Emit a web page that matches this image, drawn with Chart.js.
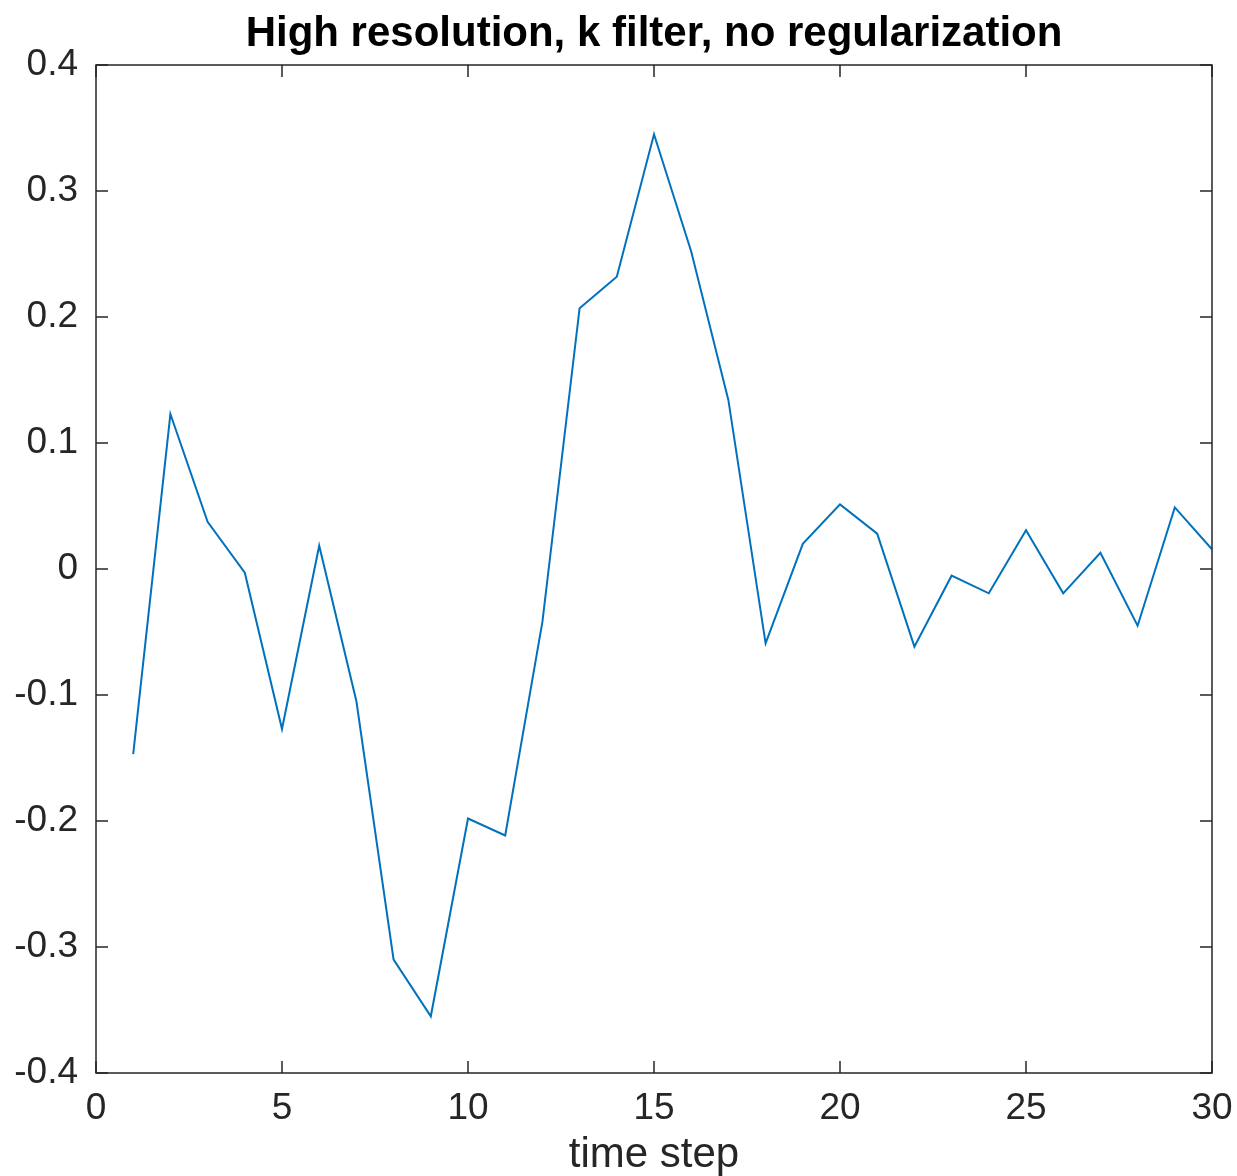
<!DOCTYPE html>
<html>
<head>
<meta charset="utf-8">
<script src="https://cdn.jsdelivr.net/npm/chart.js@4/dist/chart.umd.min.js"></script>
<style>
  html, body { margin: 0; padding: 0; background: #fff; }
  #c { display: block; }
</style>
</head>
<body>
<canvas id="c" width="1237" height="1176"></canvas>
<script>
const chartTitle = "High resolution, k filter, no regularization";
const xAxisTitle = "time step";
const timeSteps = [1,2,3,4,5,6,7,8,9,10,11,12,13,14,15,16,17,18,19,20,21,22,23,24,25,26,27,28,29,30];
const values = [-0.147, 0.123, 0.0375, -0.003, -0.127, 0.0185, -0.105, -0.310, -0.355, -0.198,
                -0.2115, -0.042, 0.207, 0.232, 0.345, 0.252, 0.134, -0.059, 0.020, 0.0513,
                0.028, -0.0616, -0.0053, -0.0193, 0.0307, -0.0193, 0.0129, -0.045, 0.0489, 0.0156];
const xTickValues = [0, 5, 10, 15, 20, 25, 30];
const xTickLabels = ["0", "5", "10", "15", "20", "25", "30"];
const yTickValues = [-0.4, -0.3, -0.2, -0.1, 0, 0.1, 0.2, 0.3, 0.4];
const yTickLabels = ["-0.4", "-0.3", "-0.2", "-0.1", "0", "0.1", "0.2", "0.3", "0.4"];

const axisColor = '#262626';
const FONT = "'Liberation Sans', Arial, Helvetica, sans-serif";

const boxPlugin = {
  id: 'matlabBox',
  afterDatasetsDraw(chart) {
    const ctx = chart.ctx;
    const a = chart.chartArea;
    const xs = chart.scales.x, ys = chart.scales.y;
    const L = 12;
    ctx.save();
    ctx.strokeStyle = axisColor;
    ctx.lineWidth = 1.5;
    ctx.beginPath();
    ctx.rect(a.left, a.top, a.right - a.left, a.bottom - a.top);
    ctx.stroke();
    ctx.beginPath();
    xTickValues.forEach(v => {
      const px = xs.getPixelForValue(v);
      ctx.moveTo(px, a.bottom); ctx.lineTo(px, a.bottom - L);
      ctx.moveTo(px, a.top); ctx.lineTo(px, a.top + L);
    });
    yTickValues.forEach(v => {
      const py = ys.getPixelForValue(v);
      ctx.moveTo(a.left, py); ctx.lineTo(a.left + L, py);
      ctx.moveTo(a.right, py); ctx.lineTo(a.right - L, py);
    });
    ctx.stroke();
    // title centred over the plot area
    ctx.fillStyle = '#000';
    ctx.font = "bold 42px " + FONT;
    ctx.textAlign = 'center';
    ctx.textBaseline = 'alphabetic';
    ctx.fillText(chartTitle, (a.left + a.right) / 2, 46);
    ctx.restore();
  }
};

new Chart(document.getElementById('c'), {
  type: 'line',
  data: {
    datasets: [{
      data: timeSteps.map((t, i) => ({ x: t, y: values[i] })),
      borderColor: '#0072BD',
      borderWidth: 2,
      pointRadius: 0,
      tension: 0,
      fill: false
    }]
  },
  options: {
    responsive: false,
    animation: false,
    devicePixelRatio: 1,
    layout: { padding: { left: 0, right: 25, top: 65, bottom: 0 } },
    plugins: {
      legend: { display: false },
      tooltip: { enabled: false },
      title: { display: false }
    },
    scales: {
      x: {
        type: 'linear',
        min: 0, max: 30,
        afterBuildTicks(scale) { scale.ticks = xTickValues.map(v => ({ value: v })); },
        afterFit(scale) { scale.height = 103; scale.paddingLeft = 0; scale.paddingRight = 0; },
        grid: { display: false, drawTicks: false },
        border: { display: false },
        ticks: {
          color: axisColor,
          font: { family: FONT, size: 37 },
          padding: 14,
          maxRotation: 0,
          autoSkip: false,
          callback: (v, i) => xTickLabels[i]
        },
        title: {
          display: true,
          text: xAxisTitle,
          color: axisColor,
          font: { family: FONT, size: 42, lineHeight: 1.0 },
          padding: { top: 0, bottom: 0 }
        }
      },
      y: {
        type: 'linear',
        min: -0.4, max: 0.4,
        afterBuildTicks(scale) { scale.ticks = yTickValues.map(v => ({ value: v })); },
        afterFit(scale) { scale.width = 96; scale.paddingTop = 0; scale.paddingBottom = 0; },
        grid: { display: false, drawTicks: false },
        border: { display: false },
        ticks: {
          color: axisColor,
          font: { family: FONT, size: 37 },
          padding: 18,
          autoSkip: false,
          callback: (v, i) => yTickLabels[i]
        }
      }
    }
  },
  plugins: [boxPlugin]
});
</script>
</body>
</html>
